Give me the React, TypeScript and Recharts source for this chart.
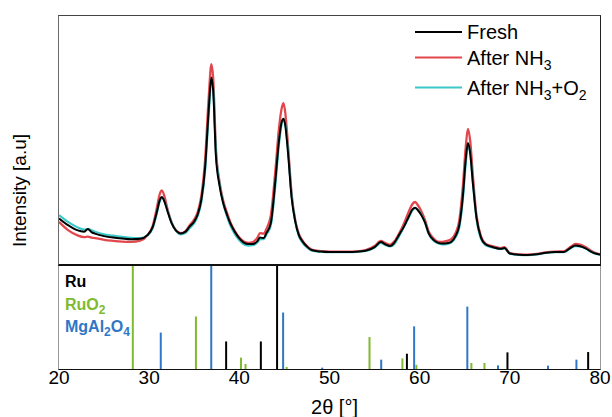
import { LineChart, Line, XAxis, YAxis, BarChart, Bar, Cell } from 'recharts'

const FONT = '"Liberation Sans", Arial, Helvetica, sans-serif'

// 2θ positions of the measured patterns (degrees)
const theta = [
  20, 21, 22, 22.8, 23.2, 23.6, 24, 25, 26, 27,
  28, 29, 29.8, 30.4, 30.8, 31.2, 31.4, 31.7, 32, 32.5,
  33, 33.5, 34, 34.5, 35, 35.4, 35.8, 36.2, 36.6, 36.9,
  37.1, 37.4, 37.8, 38.2, 38.6, 39, 39.5, 40, 40.5, 41,
  41.5, 42, 42.3, 42.7, 43, 43.5, 44, 44.4, 44.7, 44.9,
  45.1, 45.4, 45.8, 46.2, 46.6, 47, 47.5, 48, 49, 50,
  51, 52, 53, 54, 55, 55.7, 56.2, 56.7, 57.2, 57.7,
  58.3, 58.8, 59.2, 59.5, 59.8, 60.2, 60.6, 61, 61.5, 62,
  62.5, 63, 63.5, 64, 64.4, 64.8, 65.1, 65.35, 65.6, 65.9,
  66.3, 66.8, 67.3, 68, 69, 69.4, 70, 71, 72, 73,
  74, 75, 76, 76.7, 77.3, 77.8, 78.4, 79, 79.5, 80,
]

const fresh = [
  18.7, 16, 14, 13.4, 14.5, 13.2, 12.6, 11.6, 11, 10.6,
  10.3, 10.5, 12, 15.3, 20.5, 26.3, 27.3, 25.5, 22, 16.7,
  13.7, 12.7, 13.3, 15.5, 17.5, 20.5, 26.5, 39, 62, 75.3,
  70, 44, 32, 25, 20.5, 16.7, 13.3, 10.7, 9, 8.4,
  8.4, 9.6, 11, 10.8, 12.8, 17, 34, 50, 57.5, 58.7,
  56, 45, 27, 17.5, 12, 9.5, 7.4, 6, 5.4, 5.2,
  5.2, 5.2, 5.3, 5.7, 7.2, 9.2, 8.3, 7.6, 9, 12,
  15.7, 19.5, 22.3, 23, 22, 20, 17, 12.7, 10.2, 9,
  8.6, 8.7, 9.3, 11.8, 16, 28, 42, 49, 45, 33,
  19, 11, 8.3, 7.3, 6.5, 6.8, 4.6, 4.1, 4, 4.3,
  4.9, 5.2, 5.2, 6.8, 7.8, 7.5, 6.7, 5.4, 4.6, 4.2,
]

const afterNH3 = [
  17.3, 14, 12, 11.2, 11.4, 11, 10.8, 10.1, 9.7, 9.4,
  9.3, 9.8, 11.8, 15.8, 22, 28.8, 30, 27.5, 23, 17,
  13.8, 12.8, 13.5, 16, 18.3, 21.5, 28, 42, 67, 80.7,
  75, 47, 33.5, 26, 21.3, 17.2, 13.6, 11, 9.4, 8.9,
  9.2, 11, 12.8, 12.6, 14.5, 20, 38, 55, 63, 65,
  61, 48, 28.5, 18, 12.5, 9.8, 7.6, 6.2, 5.6, 5.4,
  5.4, 5.4, 5.5, 6, 7.6, 9.7, 8.8, 8.2, 9.5, 12.5,
  17, 21.5, 24.5, 25.3, 24, 21.5, 18, 13.5, 10.8, 9.4,
  9.3, 9.7, 10.4, 13, 18, 32, 47, 54.7, 50, 36,
  20, 11.5, 8.6, 7.6, 6.8, 7.2, 4.8, 4.3, 4.2, 4.5,
  5.1, 5.4, 5.5, 7.2, 8.5, 8.2, 7.2, 5.7, 4.8, 4.3,
]

const afterNH3O2 = [
  20, 17.3, 15.2, 14.2, 14.4, 14, 13.4, 12.3, 11.8, 11.3,
  10.9, 10.8, 11.9, 14.8, 20, 25.8, 27, 25.6, 22.3, 17,
  13.6, 12.3, 12.8, 14.8, 16.8, 19.8, 25.5, 37.5, 60, 74,
  71, 46, 33, 25, 19.8, 15.8, 12.4, 9.9, 8.3, 7.8,
  7.9, 9, 10.3, 10.4, 12.2, 16, 32, 48.5, 56.5, 58.5,
  56.5, 46, 28, 17.5, 11.6, 9, 7, 5.8, 5.3, 5.1,
  5.1, 5.1, 5.2, 5.6, 7, 8.9, 8, 7.4, 8.4, 11.4,
  15.6, 19.2, 22, 22.8, 22.2, 20.2, 17, 12.5, 9.9, 8.7,
  8.3, 8.4, 9, 11.2, 15, 26.5, 40, 48, 45, 33,
  18.5, 10.5, 8, 7.1, 6.4, 6.6, 4.5, 4, 3.9, 4.2,
  4.8, 5.1, 5.1, 6.6, 7.6, 7.4, 6.6, 5.3, 4.5, 4.1,
]

// reference stick patterns (2θ, relative intensity)
const ruPos = [38.55, 42.4, 44.2, 58.6, 69.75, 78.7]
const ruH = [26.5, 26.5, 100, 14.7, 16, 16.3]
const ruo2Pos = [28.2, 35.2, 40.2, 40.7, 45.26, 54.45, 58.1, 59.65, 65.75, 67.2]
const ruo2H = [100, 50.5, 10.9, 4.8, 2, 30.7, 10.2, 4, 5.8, 5.8]
const mgPos = [31.3, 36.9, 44.87, 49.2, 55.75, 59.4, 65.3, 68.7, 74.25, 77.4]
const mgH = [35, 100, 54.3, 1.3, 9, 41, 60, 3.5, 3.2, 9]

const xTicks = [20, 30, 40, 50, 60, 70, 80]

const BLACK = '#000000'
const RED = '#e2474d'
const CYAN = '#3cc7c9'
const GREEN = '#7fba2f'
const BLUE = '#2f77c6'

const pattern = theta.map((t, i) => ({
  theta: t,
  fresh: fresh[i],
  nh3: afterNH3[i],
  nh3o2: afterNH3O2[i],
}))

const sticks = [
  ...ruPos.map((p, i) => ({ theta: p, h: ruH[i], color: BLACK })),
  ...ruo2Pos.map((p, i) => ({ theta: p, h: ruo2H[i], color: GREEN })),
  ...mgPos.map((p, i) => ({ theta: p, h: mgH[i], color: BLUE })),
].sort((a, b) => a.theta - b.theta)

export default function App() {
  return (
    <div
      style={{
        position: 'absolute',
        left: 0,
        top: 0,
        width: 612,
        height: 417,
        background: '#fff',
        fontFamily: FONT,
      }}
    >
      <div style={{ position: 'absolute', left: 0, top: 0 }}>
        <LineChart
          width={612}
          height={266}
          data={pattern}
          margin={{ top: 16, right: 12, bottom: 1, left: 59 }}
        >
          <XAxis
            dataKey="theta"
            type="number"
            domain={[20, 80]}
            allowDataOverflow
            hide
          />
          <YAxis domain={[0, 100]} hide />
          <Line
            type="monotone"
            dataKey="nh3"
            stroke={RED}
            strokeWidth={2.3}
            dot={false}
            isAnimationActive={false}
          />
          <Line
            type="monotone"
            dataKey="nh3o2"
            stroke={CYAN}
            strokeWidth={2.1}
            dot={false}
            isAnimationActive={false}
          />
          <Line
            type="monotone"
            dataKey="fresh"
            stroke={BLACK}
            strokeWidth={2}
            dot={false}
            isAnimationActive={false}
          />
        </LineChart>
      </div>

      <div style={{ position: 'absolute', left: 0, top: 265 }}>
        <BarChart
          width={612}
          height={152}
          data={sticks}
          margin={{ top: 0, right: 12, bottom: 0, left: 59 }}
        >
          <XAxis
            dataKey="theta"
            type="number"
            domain={[20, 80]}
            ticks={xTicks}
            allowDataOverflow
            height={48}
            tickLine={false}
            tickSize={0}
            tickMargin={2}
            axisLine={false}
            tick={{ fontSize: 19, fill: '#000', fontFamily: FONT }}
            label={{
              value: '2θ [°]',
              position: 'insideBottom',
              offset: 3,
              dx: 5,
              fontSize: 20,
              fill: '#000',
              fontFamily: FONT,
            }}
          />
          <YAxis domain={[0, 100]} allowDataOverflow hide />
          <Bar dataKey="h" barSize={2} isAnimationActive={false}>
            {sticks.map((s, i) => (
              <Cell key={i} fill={s.color} />
            ))}
          </Bar>
        </BarChart>
      </div>

      {/* panel frames */}
      <div
        style={{
          position: 'absolute',
          left: 58,
          top: 15,
          width: 543,
          height: 251,
          boxSizing: 'border-box',
          borderLeft: '1px solid #6a6a6a',
          borderTop: '1px solid #444',
          borderRight: '1px solid #222',
          borderBottom: '2px solid #111',
          pointerEvents: 'none',
        }}
      />
      <div
        style={{
          position: 'absolute',
          left: 58,
          top: 266,
          width: 543,
          height: 104,
          boxSizing: 'border-box',
          borderLeft: '1px solid #999',
          borderRight: '1px solid #999',
          borderBottom: '1px solid #111',
          pointerEvents: 'none',
        }}
      />

      <svg
        width={612}
        height={417}
        style={{ position: 'absolute', left: 0, top: 0, pointerEvents: 'none' }}
        fontFamily={FONT}
      >
        <text
          transform="rotate(-90)"
          x={-190.5}
          y={26}
          textAnchor="middle"
          fontSize={19}
          fill="#000"
        >
          Intensity [a.u]
        </text>

        <line x1={415} x2={462} y1={32} y2={32} stroke={BLACK} strokeWidth={2} />
        <text x={467} y={39} fontSize={20} fill="#000">
          Fresh
        </text>
        <line x1={415} x2={462} y1={57.5} y2={57.5} stroke={RED} strokeWidth={2} />
        <text x={467} y={65} fontSize={20} fill="#000">
          After NH
          <tspan fontSize={14} dy={5}>
            3
          </tspan>
        </text>
        <line x1={415} x2={462} y1={87.5} y2={87.5} stroke={CYAN} strokeWidth={2} />
        <text x={467} y={95} fontSize={20} fill="#000">
          After NH
          <tspan fontSize={14} dy={5}>
            3
          </tspan>
          <tspan dy={-5}>+O</tspan>
          <tspan fontSize={14} dy={5}>
            2
          </tspan>
        </text>

        <text x={65} y={287} fontSize={16} fontWeight="bold" fill={BLACK}>
          Ru
        </text>
        <text x={65} y={310} fontSize={16} fontWeight="bold" fill={GREEN}>
          RuO
          <tspan fontSize={12} dy={4}>
            2
          </tspan>
        </text>
        <text x={65} y={332} fontSize={16} fontWeight="bold" fill={BLUE}>
          MgAl
          <tspan fontSize={12} dy={4}>
            2
          </tspan>
          <tspan dy={-4}>O</tspan>
          <tspan fontSize={12} dy={4}>
            4
          </tspan>
        </text>
      </svg>
    </div>
  )
}
